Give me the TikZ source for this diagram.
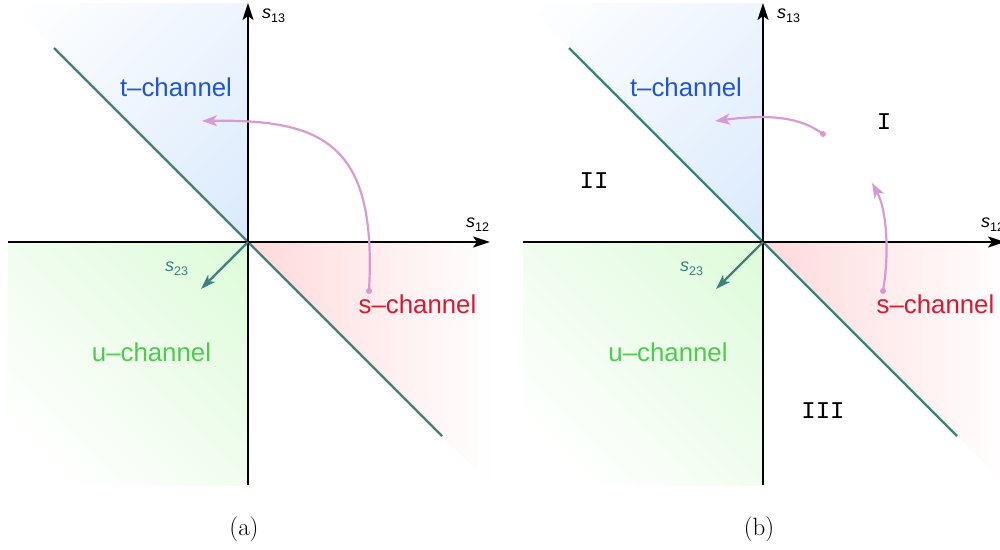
\documentclass[tikz,border=0pt]{standalone}
\usepackage{fontspec}
\newfontfamily\arial{Liberation Sans}
\newfontfamily\cour{Liberation Mono}
\usetikzlibrary{arrows.meta}
\definecolor{tealc}{HTML}{3D807C}
\definecolor{pinkc}{HTML}{D99AD3}
\definecolor{bluet}{HTML}{1F55D2}
\definecolor{redt}{HTML}{D71A30}
\definecolor{greent}{HTML}{4CCB4C}
\definecolor{blues}{HTML}{DAEAFC}
\definecolor{reds}{HTML}{FFD9DB}
\definecolor{greens}{HTML}{DDFBD9}
\newcommand\slab[1]{{\fontsize{18}{18}\selectfont\itshape s}\raisebox{-4pt}{\fontsize{12.5}{12.5}\selectfont #1}}
\tikzset{
 axisarrow/.style={line width=2.2pt, -{Stealth[length=17pt,width=11pt,inset=4pt]}},
 diag/.style={line width=2.2pt, tealc},
 sarrow/.style={line width=2.2pt, tealc, -{Stealth[length=15pt,width=10pt,inset=4pt]}},
 pinkarrow/.style={line width=2.2pt, pinkc, -{Stealth[length=15pt,width=11pt,inset=4pt]}},
 chan/.style={font=\arial\fontsize{25.8}{30}\selectfont, inner sep=0pt, anchor=base},
 axlab/.style={font=\arial, inner sep=0pt, anchor=base west},
 roman/.style={font=\cour\fontsize{24}{24}\selectfont, inner sep=0pt},
 captxt/.style={font=\fontsize{25}{25}\selectfont, inner sep=0pt},
 pdot/.style={fill=pinkc, circle, inner sep=0pt, minimum size=6pt}
}
\newcommand\panelbase[1]{%
 \coordinate (O#1) at (248,242);
 \coordinate (xl#1) at (8,242);
 \coordinate (xr#1) at (490,242);
 \coordinate (yb#1) at (248,485);
 \coordinate (yt#1) at (248,3);
 \coordinate (d1#1) at (54,48);
 \coordinate (d2#1) at (442,436);
 \coordinate (st#1) at (201,289);
 \begin{scope}
  \clip (O#1) -- (248,3) -- (9,3) -- cycle;
  \shade[top color=white, bottom color=blues, shading angle=45] (-34,-40) rectangle (296,290);
 \end{scope}
 \begin{scope}
  \clip (O#1) -- (248,485) -- (8,485) -- (8,242) -- cycle;
  \shade[top color=white, bottom color=greens, shading angle=135] (-8,198) rectangle (292,498);
 \end{scope}
 \begin{scope}
  \clip (O#1) -- (492,242) -- (492,486) -- cycle;
  \shade[left color=reds, right color=white] (248,242) rectangle (494,486);
 \end{scope}
 \draw[diag] (d1#1) -- (d2#1);
 \draw[axisarrow] (xl#1) -- (xr#1);
 \draw[axisarrow] (yb#1) -- (yt#1);
 \draw[sarrow] (O#1) -- (st#1);
 \node[axlab] (s13#1) at (262,18) {\slab{13}};
 \node[axlab] (s12#1) at (466,227) {\slab{12}};
 \node[axlab, text=tealc] (s23#1) at (165,271) {\slab{23}};
}
\begin{document}
\begin{tikzpicture}[x=1pt, y=-1pt]
\useasboundingbox (0,0) rectangle (1000,549);
\clip (0,0) rectangle (1000,549);
% panel (a)
\panelbase{a}
\node[chan, text=bluet] (ta) at (176,96) {t–channel};
\node[chan, text=redt] (sa) at (417.5,313) {s–channel};
\node[chan, text=greent] (ua) at (151.5,361) {u–channel};
\node[pdot] (pa1) at (369,291) {};
\coordinate (pa2) at (202,121);
\draw[pinkarrow] (pa1.center) .. controls (377,145) and (325,119) .. (pa2);
\node[captxt] (capa) at (244,529) {(a)};
% panel (b)
\begin{scope}[xshift=515pt]
\panelbase{b}
\node[chan, text=bluet] (tb) at (171,96) {t–channel};
\node[chan, text=redt] (sb) at (420.5,313) {s–channel};
\node[chan, text=greent] (ub) at (153,361) {u–channel};
\node[roman] (r1) at (369,122) {I};
\node[roman] (r2) at (79,181) {II};
\node[roman] (r3) at (308,411) {III};
\node[pdot] (pb1) at (308,134) {};
\coordinate (pb2) at (200,121);
\draw[pinkarrow] (pb1.center) .. controls (285,117) and (255,114) .. (pb2);
\node[pdot] (pb3) at (368,291) {};
\coordinate (pb4) at (357,183);
\draw[pinkarrow] (pb3.center) .. controls (375,250) and (371,208) .. (pb4);
\node[captxt] (capb) at (244,529) {(b)};
\end{scope}
\end{tikzpicture}
\end{document}
